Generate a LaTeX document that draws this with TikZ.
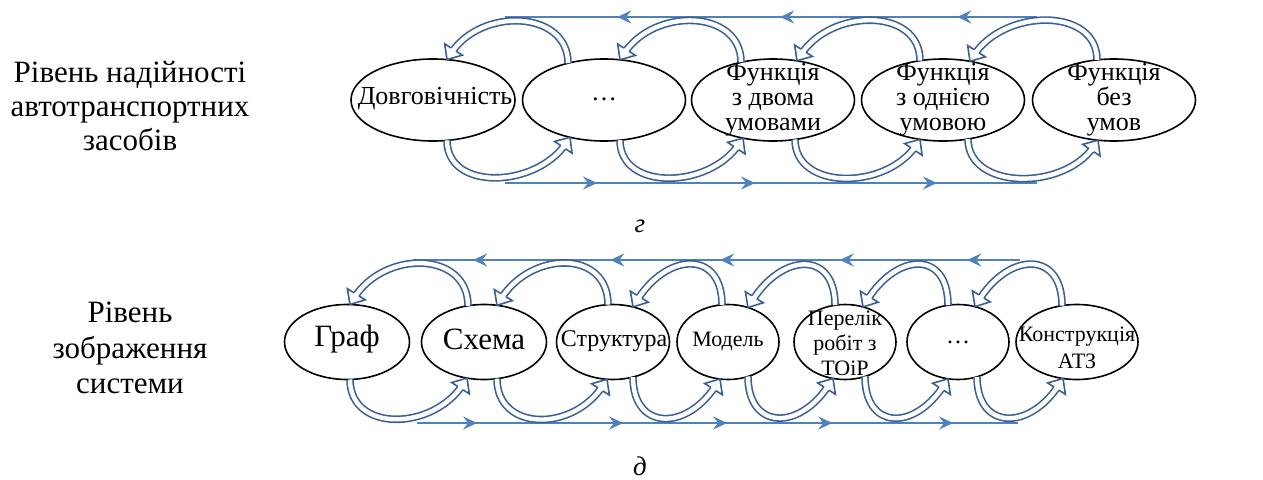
\documentclass[tikz,border=0pt]{standalone}
\usepackage{fontspec}
\setmainfont{Liberation Serif}
\usetikzlibrary{calc,arrows.meta,decorations.markings,shapes.geometric}
\definecolor{hblue}{RGB}{58,96,146}
\definecolor{lblue}{RGB}{79,129,189}
\tikzset{
  ell/.style={draw=black, line width=1.6pt, ellipse, inner sep=0pt, outer sep=0pt},
  etxt/.style={font=\fontsize{26}{25}\selectfont, align=center, inner sep=0pt},
  btxt/.style={font=\fontsize{22}{25}\selectfont, align=center, inner sep=0pt},
  lbl/.style={font=\fontsize{31}{34}\selectfont, align=center, inner sep=0pt},
  hshaft/.style={draw=hblue, line width=1.6pt, double=white, double distance=4.4pt, shorten >=7pt},
  hhead/.style={decorate, decoration={markings, mark=at position 1 with {
      \draw[draw=hblue, line width=1.6pt, fill=white, line join=miter]
        (-12pt,3pt) -- (-12pt,10.5pt) -- (0pt,0pt) -- (-12pt,-10.5pt) -- (-12pt,-3pt);}}},
  tline/.style={draw=lblue, line width=2pt},
  tarr/.style={-{Stealth[length=14pt,width=13pt,inset=5pt]}}
}
% arc over the top: from node #1 (dx #2, drop #3) to node #4 (dx #5, drop #6), control height #7
\newcommand\arcup[7]{%
  \coordinate (s) at ($(#1.north)+(#2,#3)$);
  \coordinate (e) at ($(#4.north)+(#5,#6)$);
  \coordinate (c1) at ($(s)+(0,-#7)$);
  \coordinate (c2) at ($(e)+(34,-#7)$);
  \draw[hshaft] (s) .. controls (c1) and (c2) .. (e);
  \path[hhead] (c2) -- (e);
}
\newcommand\arcdown[7]{%
  \coordinate (s) at ($(#1.south)+(#2,-#3)$);
  \coordinate (e) at ($(#4.south)+(#5,-#6)$);
  \coordinate (c1) at ($(s)+(0,#7)$);
  \coordinate (c2) at ($(e)+(-34,#7)$);
  \draw[hshaft] (s) .. controls (c1) and (c2) .. (e);
  \path[hhead] (c2) -- (e);
}
\newcommand\ahead{\arrow{Stealth[length=14pt,width=13pt,inset=5pt]}}
\begin{document}
\begin{tikzpicture}[x=1pt,y=-1pt]
\useasboundingbox (0,0) rectangle (1263,479);

% ---------- left labels and captions
\node[lbl] (L1) at (130,106) {Рівень надійності\\автотранспортних\\засобів};
\node[lbl, font=\fontsize{31}{35.5}\selectfont] (L2) at (130,348) {Рівень\\зображення\\системи};
\node[etxt, font=\fontsize{27}{27}\itshape] (capg) at (640,226) {г};
\node[etxt, font=\fontsize{27}{27}\itshape] (capd) at (640,466) {д};

% ---------- top row thin lines
\coordinate (ta) at (1037,17);
\coordinate (tb) at (505,17);
\coordinate (tc) at (505,183);
\coordinate (td) at (1037,183);
\draw[tline, postaction={decorate}, decoration={markings,
   mark=at position 0.150 with {\ahead},
   mark=at position 0.483 with {\ahead},
   mark=at position 0.789 with {\ahead}}]
   (ta) -- (tb);
\draw[tline, postaction={decorate}, decoration={markings,
   mark=at position 0.173 with {\ahead},
   mark=at position 0.470 with {\ahead},
   mark=at position 0.812 with {\ahead}}]
   (tc) -- (td);

% ---------- top row ellipses
\node[ell, minimum width=164pt, minimum height=82pt] (t1) at (433,100) {};
\node[ell, minimum width=163pt, minimum height=82pt] (t2) at (604,100) {};
\node[ell, minimum width=163pt, minimum height=82pt] (t3) at (773,100) {};
\node[ell, minimum width=163pt, minimum height=82pt] (t4) at (943,100) {};
\node[ell, minimum width=163pt, minimum height=82pt] (t5) at (1114,100) {};
\node[etxt] (t1l) at (435,99) {Довговічність};
\node[etxt] (t2l) at (604,99) {…};
\node[etxt] (t3l) at (773,100) {Функція\\з двома\\умовами};
\node[etxt] (t4l) at (943,100) {Функція\\з однією\\умовою};
\node[etxt] (t5l) at (1114,100) {Функція\\без\\умов};

% ---------- top row hollow arrows
\arcup{t2}{-36}{4.2}{t1}{14}{0.6}{53}
\arcup{t3}{-32}{3.2}{t2}{16}{0.8}{53}
\arcup{t4}{-23}{1.6}{t3}{24}{1.8}{53}
\arcup{t5}{-17}{0.9}{t4}{27}{2.3}{53}
\arcdown{t1}{14}{0.6}{t2}{-34}{3.7}{51}
\arcdown{t2}{16}{0.8}{t3}{-30}{2.8}{51}
\arcdown{t3}{22}{1.5}{t4}{-23}{1.6}{51}
\arcdown{t4}{25}{2.0}{t5}{-16}{0.8}{51}

% ---------- bottom row thin lines
\coordinate (ba) at (1020,260);
\coordinate (bb) at (413,260);
\coordinate (bc) at (417,423);
\coordinate (bd) at (1018,423);
\draw[tline, postaction={decorate}, decoration={markings,
   mark=at position 0.087 with {\ahead},
   mark=at position 0.297 with {\ahead},
   mark=at position 0.494 with {\ahead},
   mark=at position 0.675 with {\ahead},
   mark=at position 0.901 with {\ahead}}]
   (ba) -- (bb);
\draw[tline, postaction={decorate}, decoration={markings,
   mark=at position 0.100 with {\ahead},
   mark=at position 0.343 with {\ahead},
   mark=at position 0.516 with {\ahead},
   mark=at position 0.691 with {\ahead},
   mark=at position 0.892 with {\ahead}}]
   (bc) -- (bd);

% ---------- bottom row ellipses
\node[ell, minimum width=125pt, minimum height=75pt] (b1) at (347,342) {};
\node[ell, minimum width=125pt, minimum height=75pt] (b2) at (484,342) {};
\node[ell, minimum width=113pt, minimum height=75pt] (b3) at (613,342) {};
\node[ell, minimum width=102pt, minimum height=75pt] (b4) at (728,342) {};
\node[ell, minimum width=102pt, minimum height=75pt] (b5) at (845,342) {};
\node[ell, minimum width=102pt, minimum height=75pt] (b6) at (958,342) {};
\node[ell, minimum width=122pt, minimum height=75pt] (b7) at (1077,342) {};
\node[btxt, font=\fontsize{31}{31}\selectfont] (b1l) at (347,339) {Граф};
\node[btxt, font=\fontsize{31}{31}\selectfont] (b2l) at (484,339) {Схема};
\node[btxt, font=\fontsize{24}{25}\selectfont] (b3l) at (614,341) {Структура};
\node[btxt] (b4l) at (728,341) {Модель};
\node[btxt] (b5l) at (845,343) {Перелік\\робіт з\\ТОіР};
\node[btxt, font=\fontsize{24}{25}\selectfont] (b6l) at (958,342) {…};
\node[btxt, font=\fontsize{22}{27}\selectfont] (b7l) at (1077,348) {Конструкція\\АТЗ};

% ---------- bottom row hollow arrows
\arcup{b2}{-16}{1.3}{b1}{3}{0}{55}
\arcup{b3}{-5}{0.1}{b2}{13}{0.8}{55}
\arcup{b4}{-6}{0.3}{b3}{20}{2.4}{55}
\arcup{b5}{-10}{0.7}{b4}{20}{3.0}{55}
\arcup{b6}{-10}{0.7}{b5}{18}{2.4}{55}
\arcup{b7}{-15}{1.1}{b6}{17}{2.1}{55}
\arcdown{b1}{3}{0}{b2}{-17}{1.4}{53}
\arcdown{b2}{13}{0.8}{b3}{-6}{0.2}{53}
\arcdown{b3}{20}{2.4}{b4}{-8}{0.5}{53}
\arcdown{b4}{20}{3.0}{b5}{-12}{1.0}{53}
\arcdown{b5}{20}{3.0}{b6}{-10}{0.7}{53}
\arcdown{b6}{19}{2.7}{b7}{-14}{1.0}{53}
\end{tikzpicture}
\end{document}
